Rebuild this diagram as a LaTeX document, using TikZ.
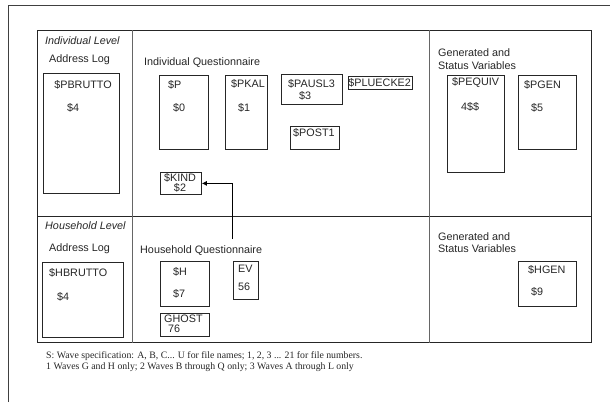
\documentclass[tikz,border=0pt]{standalone}
\usepackage{fontspec}
\setmainfont{Liberation Sans}
\newfontfamily\serifnote{Liberation Serif}
\usetikzlibrary{arrows.meta}
\begin{document}
\begin{tikzpicture}[x=1pt,y=-1pt,
  every node/.style={font=\fontsize{10.8}{12.5}\selectfont, text=black!85},
  lbl/.style={anchor=west, inner sep=0pt},
  box/.style={draw=black!85, line width=0.8pt, anchor=north west, inner sep=0pt},
  frame/.style={draw=black!85, line width=0.9pt},
  divider/.style={draw=black!60, line width=0.8pt},
  note/.style={anchor=west, inner sep=0pt, font=\serifnote\fontsize{9.8}{11}\selectfont}]
\useasboundingbox (0,0) rectangle (610,402);
% page frame
\draw[draw=black!75, line width=0.8pt] (8,402) -- (8,5) -- (610,5);
% table
\draw[frame] (37.7,30) rectangle (591.7,342.7);
\draw[frame] (37.7,216) -- (591.7,216);
\draw[divider] (132.7,30) -- (132.7,342.7);
\draw[divider] (429,30) -- (429,342.7);

% ---------- Individual level ----------
\node[lbl, font=\itshape\fontsize{10.8}{12.5}\selectfont] (il) at (45,41) {Individual Level};
\node[lbl] (al1) at (49,60) {Address Log};
\node[box, minimum width=75.7pt, minimum height=120pt] (PBRUTTO) at (43.3,73) {};
\node (tPBRUTTO) at (83,85) {\$PBRUTTO};
\node[lbl] (v4a) at (67,108) {\$4};

\node[lbl] (iq) at (144,63) {Individual Questionnaire};
\node[box, minimum width=49pt, minimum height=74pt] (P) at (159,75) {};
\node[lbl] (tP) at (168,85) {\$P};
\node[lbl] (v0) at (173,108) {\$0};
\node[box, minimum width=42pt, minimum height=74pt] (PKAL) at (225,75) {};
\node[lbl] (tPKAL) at (231,84) {\$PKAL};
\node[lbl] (v1) at (238,108) {\$1};
\node[box, minimum width=60.7pt, minimum height=30pt] (PAUSL3) at (281,74) {};
\node[lbl] (tPAUSL3) at (288,84) {\$PAUSL3};
\node[lbl] (v3) at (299,96) {\$3};
\node[box, minimum width=64pt, minimum height=13pt, line width=0.6pt] (PLUECKE2) at (347.7,76) {};
\node (tPLUECKE2) at (379.7,82.5) {\$PLUECKE2};
\node[box, minimum width=49pt, minimum height=23pt] (POST1) at (290,126) {};
\node[lbl] (tPOST1) at (293,133) {\$POST1};
\node[box, minimum width=41pt, minimum height=22pt] (KIND) at (160,172) {};
\node (tKIND) at (180,177.5) {\$KIND};
\node (v2) at (180,188) {\$2};

\node[lbl, align=left] (gs1) at (438,59) {Generated and\\Status Variables};
\node[box, minimum width=57.3pt, minimum height=97pt, line width=0.6pt] (PEQUIV) at (446.7,75) {};
\node[lbl] (tPEQUIV) at (452,83) {\$PEQUIV};
\node[lbl] (v4ss) at (461,107) {4\$\$};
\node[box, minimum width=57.7pt, minimum height=74pt, line width=0.6pt] (PGEN) at (518,75) {};
\node[lbl] (tPGEN) at (524,85) {\$PGEN};
\node[lbl] (v5) at (531,108) {\$5};

% ---------- Household level ----------
\node[lbl, font=\itshape\fontsize{10.8}{12.5}\selectfont] (hl) at (45,226) {Household Level};
\node[lbl] (al2) at (49,249) {Address Log};
\node[box, minimum width=81pt, minimum height=75pt, line width=1pt] (HBRUTTO) at (41.7,262) {};
\node[lbl] (tHBRUTTO) at (49,273) {\$HBRUTTO};
\node[lbl] (v4b) at (57,297) {\$4};

\node[lbl] (hq) at (140,251) {Household Questionnaire};
\node[box, minimum width=49pt, minimum height=45pt] (H) at (160,261) {};
\node[lbl] (tH) at (173,272) {\$H};
\node[lbl] (v7) at (173,294) {\$7};
\node[box, minimum width=25.3pt, minimum height=37.7pt] (EV) at (232.7,261) {};
\node[lbl] (tEV) at (238,269) {EV};
\node[lbl] (v56) at (238,287) {56};
\node[box, minimum width=49pt, minimum height=23pt] (GHOST) at (160,313) {};
\node[lbl] (tGHOST) at (164,318.5) {GHOST};
\node[lbl] (v76) at (168,329) {76};

\node[lbl, align=left] (gs2) at (438,242.5) {Generated and\\Status Variables};
\node[box, minimum width=57.7pt, minimum height=45pt] (HGEN) at (518,261) {};
\node[lbl] (tHGEN) at (528,270) {\$HGEN};
\node[lbl] (v9) at (531,292) {\$9};

% arrow
\coordinate (arrstart) at (232.3,239);
\draw[draw=black, line width=0.8pt, -{Latex[length=5pt,width=5pt]}] (arrstart) |- (KIND.east);

% footnote
\node[note] (n1) at (46,356) {S: Wave specification: A, B, C... U for file names; 1, 2, 3 ... 21 for file numbers.};
\node[note] (n2) at (46,367.5) {1 Waves G and H only; 2 Waves B through Q only; 3 Waves A through L only};
\end{tikzpicture}
\end{document}
